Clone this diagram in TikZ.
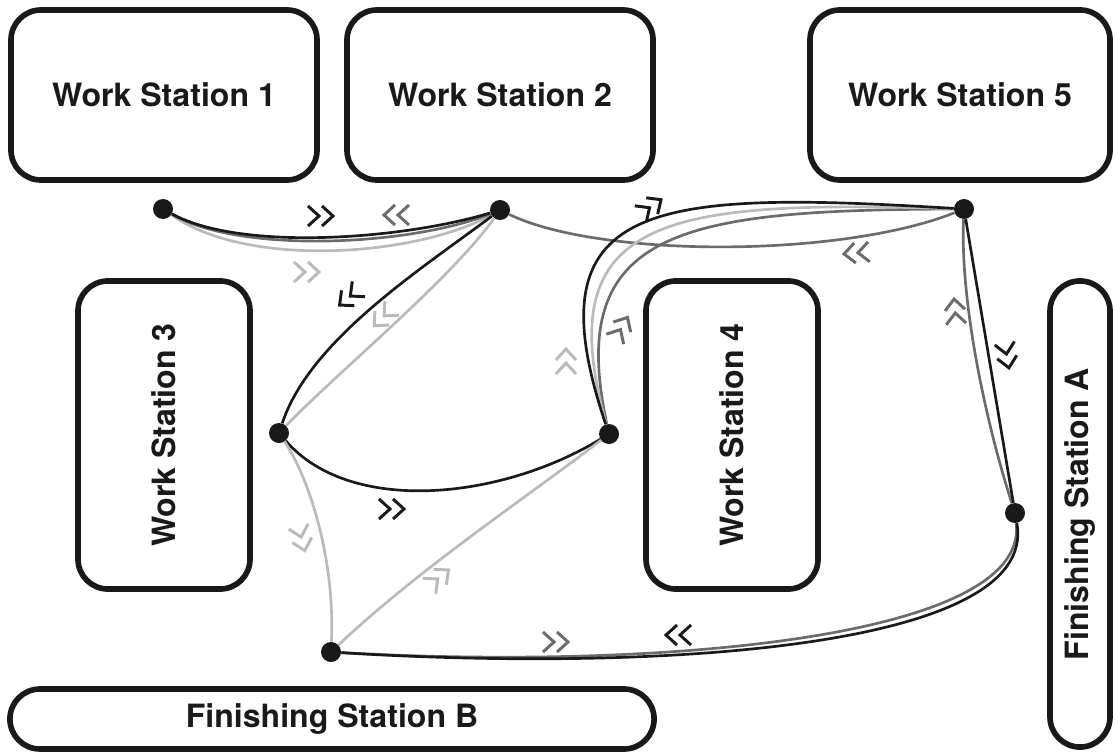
\documentclass[tikz,border=0pt]{standalone}
\usepackage{fontspec}
\setmainfont{TeX Gyre Heros}
\colorlet{ink}{black!90}
\colorlet{mid}{black!58}
\colorlet{pale}{black!27}
\tikzset{
  station/.style={draw=ink, text=ink, line width=4pt, rounded corners=0.75cm,
    font=\bfseries\fontsize{22.8}{26}\selectfont, inner sep=0pt},
  junction/.style={circle, fill=ink, inner sep=0pt, minimum size=0.5cm},
  flow/.style={line width=1.9pt},
  chevs/.pic={\draw[line width=2.1pt] (-14,-10)--(-3,0)--(-14,10) (0,-10)--(11,0)--(0,10);}
}
\begin{document}
\begin{tikzpicture}[x=0.025cm,y=-0.025cm]
  \useasboundingbox (0,0) rectangle (1115,755);
  % stations
  \node[station, minimum width=7.65cm, minimum height=4.25cm] (ws1) at (164,95) {Work Station 1};
  \node[station, minimum width=7.65cm, minimum height=4.25cm] (ws2) at (500,95) {Work Station 2};
  \node[station, minimum width=7.5cm, minimum height=4.25cm] (ws5) at (960,95) {Work Station 5};
  \node[station, rotate=90, minimum width=7.7cm, minimum height=4.3cm] (ws3) at (164,435) {Work Station 3};
  \node[station, rotate=90, minimum width=7.7cm, minimum height=4.3cm] (ws4) at (732,435) {Work Station 4};
  \node[station, rotate=90, minimum width=11.65cm, minimum height=1.5cm] (fa) at (1080,514) {Finishing Station A};
  \node[station, minimum width=16.1cm, minimum height=1.5cm] (fb) at (332,719) {Finishing Station B};
  % junctions
  \node[junction] (p1) at (163,209) {};
  \node[junction] (p2) at (500,210) {};
  \node[junction] (p5) at (964,209) {};
  \node[junction] (p3) at (279,433) {};
  \node[junction] (p4) at (609,434) {};
  \node[junction] (pA) at (1015,513) {};
  \node[junction] (pB) at (331,652) {};
  % routes
  \begin{scope}[flow]
    \draw[pale] (p1) .. controls (250,270) and (420,255) .. (p2);
    \draw[mid] (p1) .. controls (240,254) and (410,246) .. (p2);
    \draw[ink] (p1) .. controls (240,251) and (400,240) .. (p2);
    \draw[pale] (p2) .. controls (450,280) and (340,370) .. (p3);
    \draw[ink] (p2) .. controls (420,270) and (310,340) .. (p3);
    \draw[mid] (p2) .. controls (600,258) and (840,258) .. (p5);
    \draw[mid] (p4) .. controls (565,230) and (680,210) .. (p5);
    \draw[pale] (p4) .. controls (548,215) and (665,200) .. (p5);
    \draw[ink] (p4) .. controls (530,200) and (650,190) .. (p5);
    \draw[ink] (p3) .. controls (350,515) and (500,500) .. (p4);
    \draw[pale] (p3) .. controls (310,480) and (335,560) .. (pB);
    \draw[pale] (pB) .. controls (420,568) and (530,495) .. (p4);
    \draw[mid] (pB) .. controls (650,670) and (1030,640) .. (pA);
    \draw[ink] (pB) .. controls (650,672) and (1040,650) .. (pA);
    \draw[mid] (p5) .. controls (960,300) and (985,420) .. (pA);
    \draw[ink] (p5) -- (pA);
  \end{scope}
  % direction marks
  \pic[ink] at (322,216) {chevs};
  \pic[mid, rotate=180] at (395,215) {chevs};
  \pic[pale] at (308,272) {chevs};
  \pic[ink, rotate=220] at (348,298) {chevs};
  \pic[pale, rotate=225] at (382,318) {chevs};
  \pic[mid, rotate=185] at (855,253) {chevs};
  \pic[ink, rotate=35] at (652,206) {chevs};
  \pic[mid, rotate=60] at (622,327) {chevs};
  \pic[pale, rotate=90] at (566,360) {chevs};
  \pic[ink] at (393,509) {chevs};
  \pic[pale, rotate=-75] at (302,540) {chevs};
  \pic[pale, rotate=40] at (440,577) {chevs};
  \pic[mid] at (557,642) {chevs};
  \pic[ink, rotate=180] at (677,635) {chevs};
  \pic[mid, rotate=95] at (955,310) {chevs};
  \pic[ink, rotate=-80] at (1007,357) {chevs};
\end{tikzpicture}
\end{document}
